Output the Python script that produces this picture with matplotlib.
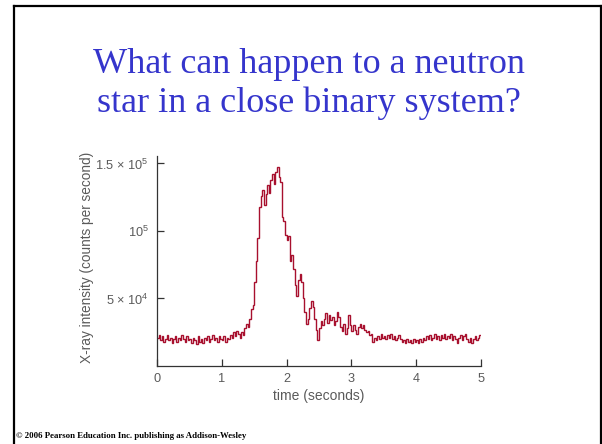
import matplotlib
matplotlib.use("Agg")
import matplotlib.pyplot as plt
import numpy as np
from matplotlib.lines import Line2D

plt.rcParams["mathtext.fontset"] = "custom"
plt.rcParams["mathtext.rm"] = "Liberation Sans"
plt.rcParams["mathtext.it"] = "Liberation Sans:italic"

title = "What can happen to a neutron\nstar in a close binary system?"
xlabel = "time (seconds)"
ylabel = "X-ray intensity (counts per second)"
credit = "© 2006 Pearson Education Inc. publishing as Addison-Wesley"

x_ticks = [0, 1, 2, 3, 4, 5]
y_ticks = [5e4, 1e5, 1.5e5]
y_tick_labels = ["5 × 10$^{4}$", "10$^{5}$", "1.5 × 10$^{5}$"]

# light curve, counts per second (in thousands), bins of 0.025 s from t = 0
bin_width = 0.025
counts_k = [
    21, 23, 19, 22, 18, 20, 23, 19, 21, 17, 20, 22, 18, 21, 19, 23, 20, 18, 22, 19,
    20, 17, 21, 19, 16, 22, 18, 20, 17, 21, 19, 22, 18, 20, 23, 19, 21, 18, 22, 20,
    19, 22, 18, 21, 20, 23, 21, 25, 22, 26, 24, 21, 25, 23, 28, 31, 29, 35, 42, 45,
    62, 78, 95, 118, 126, 130, 119, 127, 134, 128, 138, 142, 135, 144, 147, 140, 136, 110, 107, 97,
    93, 96, 78, 82, 72, 60, 52, 64, 68, 62, 50, 40, 31, 35, 43, 48, 44, 35, 27, 19,
    28, 33, 30, 35, 39, 32, 38, 34, 36, 30, 33, 40, 36, 29, 26, 31, 24, 28, 38, 30,
    26, 30, 27, 24, 29, 31, 28, 30, 27, 25, 26, 23, 24, 18, 21, 19, 22, 20, 24, 21,
    22, 20, 23, 21, 24, 20, 22, 19, 21, 23, 20, 18, 19, 17, 20, 18, 19, 17, 20, 18,
    19, 17, 20, 18, 21, 19, 22, 20, 23, 19, 21, 24, 20, 22, 19, 23, 21, 24, 20, 22,
    21, 24, 19, 22, 20, 17, 21, 23, 19, 22, 24, 20, 18, 21, 17, 20, 22, 19, 21, 23,
]

values = np.array(counts_k, dtype=float) * 1000.0
edges = np.arange(len(values) + 1) * bin_width

fig = plt.figure(figsize=(6.02, 4.44), dpi=100)
fig.patch.set_facecolor("white")

# slide frame
frame_kw = dict(color="black", linewidth=1.6, transform=fig.transFigure)
fig.add_artist(Line2D([14 / 602, 14 / 602], [0, 1 - 6 / 444], **frame_kw))
fig.add_artist(Line2D([14 / 602, 600.5 / 602], [1 - 6 / 444, 1 - 6 / 444], **frame_kw))
fig.add_artist(Line2D([600.5 / 602, 600.5 / 602], [0, 1 - 6 / 444], **frame_kw))

fig.text(309 / 602, 1 - 84 / 444, title, ha="center", va="center",
         family="Liberation Serif", fontsize=26, color="#3535cc", linespacing=1.18)

fig.text(16 / 602, 1 - 438 / 444, credit, ha="left", va="baseline",
         family="Liberation Serif", fontweight="bold", fontsize=6.3, color="black")

ax = fig.add_axes([157 / 602, (444 - 366) / 444, (481 - 157) / 602, (366 - 156) / 444])
ax.stairs(values, edges, color="#a8102e", linewidth=1.0, baseline=None)

ax.set_xlim(0, 5)
ax.set_ylim(0, 1.555e5)
for side in ["top", "right"]:
    ax.spines[side].set_visible(False)
for side in ["left", "bottom"]:
    ax.spines[side].set_color("#333333")
    ax.spines[side].set_linewidth(0.9)

ax.set_xticks(x_ticks)
ax.set_xticklabels([str(v) for v in x_ticks])
ax.set_yticks(y_ticks)
ax.set_yticklabels(y_tick_labels)
ax.tick_params(direction="in", length=5, width=0.9, color="#333333",
               labelcolor="#5a5a5a", labelsize=9.2)
ax.tick_params(axis="y", pad=6)
ax.tick_params(axis="x", pad=5)
for lab in ax.get_xticklabels() + ax.get_yticklabels():
    lab.set_family("Liberation Sans")

ax.set_xlabel(xlabel, family="Liberation Sans", fontsize=10, color="#5a5a5a", labelpad=3)
ax.set_ylabel(ylabel, family="Liberation Sans", fontsize=9.8, color="#5a5a5a")
ax.yaxis.set_label_coords((94 - 157) / 324, 0.515)

fig.savefig("out.png", dpi=100)
